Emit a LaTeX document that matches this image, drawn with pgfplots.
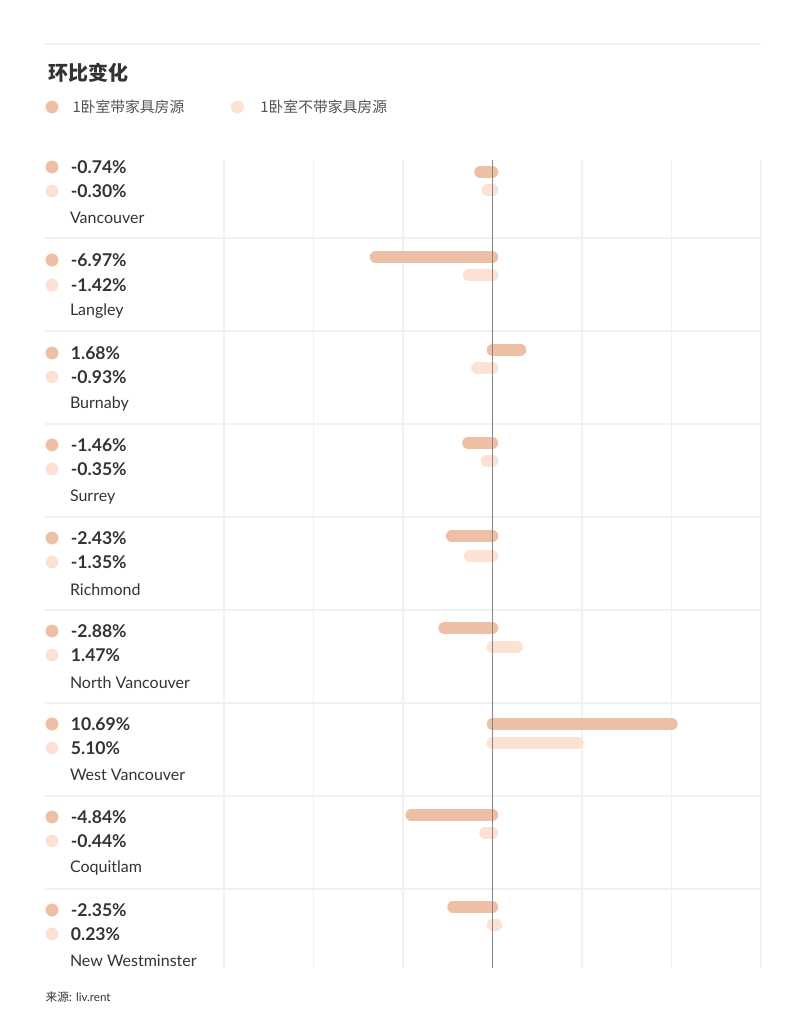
\documentclass[border=0pt]{standalone}
\usepackage{pgfplots}
\pgfplotsset{compat=1.18}
\usepackage{fontspec}
\setmainfont{Lato}
\newfontfamily\cjk{Noto Sans CJK SC}
\definecolor{c1}{HTML}{EDBFA5}
\definecolor{c2}{HTML}{FDE1D2}
\definecolor{gridc}{HTML}{F1F1F1}
\definecolor{txt}{HTML}{333333}
\definecolor{zeroc}{HTML}{858585}
\newcommand{\crow}[8]{%
  \addplot[c1, line width=5.8pt, line cap=round] coordinates {(0,#4) (#2,#4)};
  \addplot[c2, line width=5.8pt, line cap=round] coordinates {(0,#5) (#3,#5)};
  \addplot[only marks, mark=*, mark size=3pt, color=c1] coordinates {(-26.25,#6)};
  \addplot[only marks, mark=*, mark size=3pt, color=c2] coordinates {(-26.25,#7)};
  \node[anchor=west, inner sep=0pt, text=txt, font=\fontsize{8.8}{10}\selectfont\bfseries] at (axis cs:-25.15,#6) {#2\%};
  \node[anchor=west, inner sep=0pt, text=txt, font=\fontsize{8.8}{10}\selectfont\bfseries] at (axis cs:-25.15,#7) {#3\%};
  \node[anchor=west, inner sep=0pt, text=txt, font=\fontsize{8}{10}\selectfont] at (axis cs:-25.2,#8) {#1};
}
\begin{document}
\begin{tikzpicture}
\useasboundingbox (0,0) rectangle (402.5pt,512pt);
\begin{axis}[
  at={(112pt,28pt)}, anchor=south west,
  scale only axis, width=268.5pt, height=404pt,
  xmin=-16, xmax=16, ymin=160, ymax=968, y dir=reverse,
  axis lines=none, clip=false,
  xtick={-16,-10.667,-5.333,5.333,10.667,16}, ytick=\empty,
  xticklabels={}, 
]
% vertical grid lines
\pgfplotsinvokeforeach{-16,-10.667,-5.333,5.333,10.667,16}{
  \addplot[gridc, line width=0.6pt] coordinates {(#1,160) (#1,968)};
}
% horizontal separators
\pgfplotsinvokeforeach{238,331,424,517,610,703,796,889}{
  \addplot[gridc, line width=0.6pt] coordinates {(-26.67,#1) (16,#1)};
}
\addplot[gridc, line width=0.6pt] coordinates {(-26.67,44) (16,44)};
% title and legend
\node[anchor=west, inner sep=0pt, text=txt, font=\cjk\bfseries\fontsize{10}{12}\selectfont] at (axis cs:-26.5,73) {环比变化};
\addplot[only marks, mark=*, mark size=3pt, color=c1] coordinates {(-26.25,107)};
\addplot[only marks, mark=*, mark size=3pt, color=c2] coordinates {(-15.2,107)};
\node[anchor=west, inner sep=0pt, text=txt!85, font=\cjk\fontsize{7.4}{9}\selectfont] at (axis cs:-25.05,107) {1卧室带家具房源};
\node[anchor=west, inner sep=0pt, text=txt!85, font=\cjk\fontsize{7.4}{9}\selectfont] at (axis cs:-13.85,107) {1卧室不带家具房源};
% rows: name, v1, v2, bar1 y, bar2 y, label1 y, label2 y, name y
\crow{Vancouver}{-0.74}{-0.30}{172}{190}{167}{191}{218}
\crow{Langley}{-6.97}{-1.42}{257}{275}{260}{285}{311}
\crow{Burnaby}{1.68}{-0.93}{350}{368}{353}{377}{404}
\crow{Surrey}{-1.46}{-0.35}{443}{461}{445}{469}{497}
\crow{Richmond}{-2.43}{-1.35}{536}{556}{538}{562}{590}
\crow{North Vancouver}{-2.88}{1.47}{628}{647}{631}{655}{683}
\crow{West Vancouver}{10.69}{5.10}{724}{743}{724}{748}{775}
\crow{Coquitlam}{-4.84}{-0.44}{815}{833}{817}{841}{868}
\crow{New Westminster}{-2.35}{0.23}{907}{925}{910}{934}{961}
% zero line
\addplot[zeroc, line width=0.6pt] coordinates {(0,160) (0,968)};
% source
\node[anchor=west, inner sep=0pt, text=txt, font=\fontsize{5.8}{7}\selectfont] at (axis cs:-26.65,997) {{\cjk 来源:} liv.rent};
\end{axis}
\end{tikzpicture}
\end{document}
